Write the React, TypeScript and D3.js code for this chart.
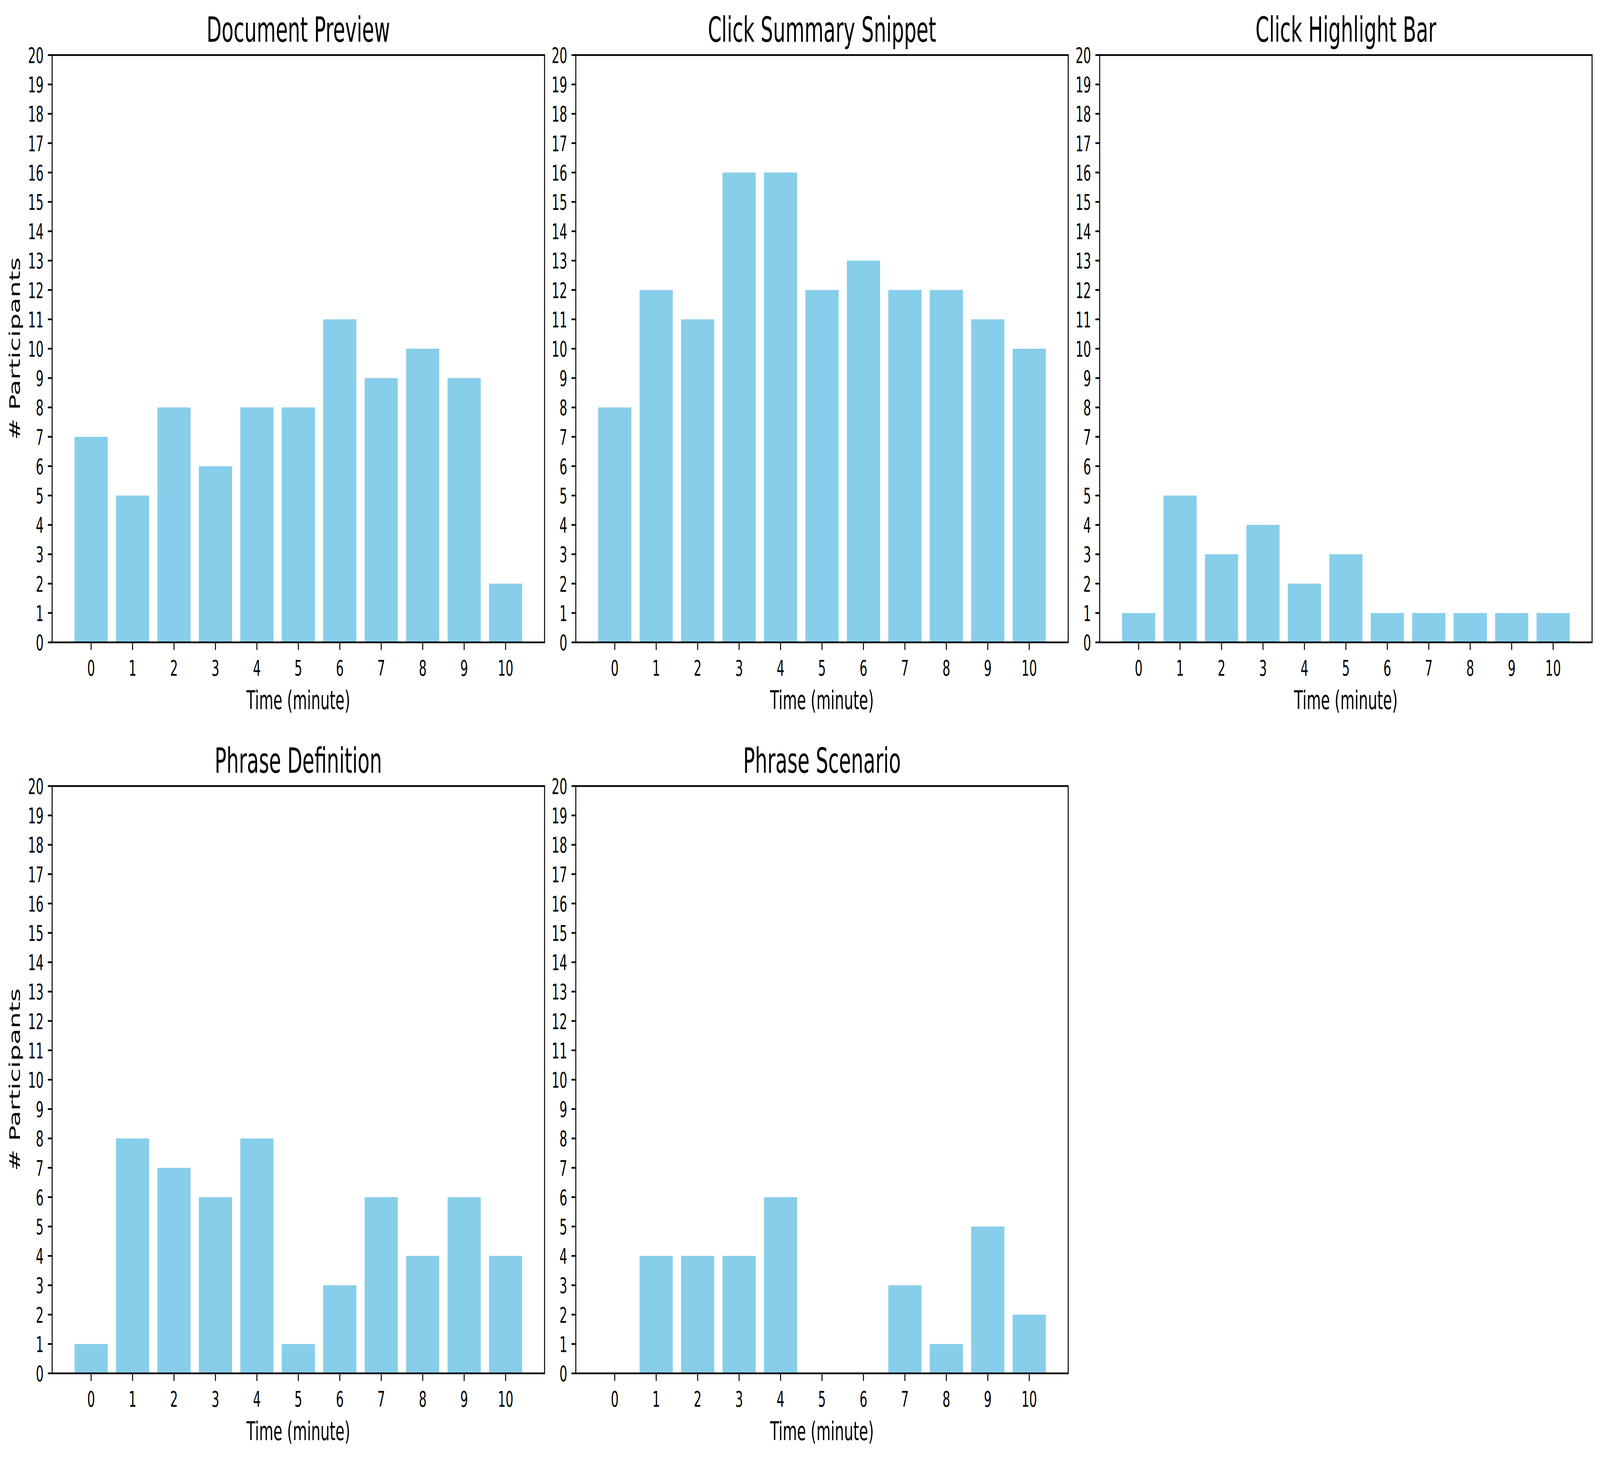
import * as d3 from 'd3';

const minutes = [0, 1, 2, 3, 4, 5, 6, 7, 8, 9, 10];
const yTicks = d3.range(0, 21);

const documentPreview = [7, 5, 8, 6, 8, 8, 11, 9, 10, 9, 2];
const clickSummarySnippet = [8, 12, 11, 16, 16, 12, 13, 12, 12, 11, 10];
const clickHighlightBar = [1, 5, 3, 4, 2, 3, 1, 1, 1, 1, 1];
const phraseDefinition = [1, 8, 7, 6, 8, 1, 3, 6, 4, 6, 4];
const phraseScenario = [0, 4, 4, 4, 6, 0, 0, 3, 1, 5, 2];

const panels = [
  { title: 'Document Preview', values: documentPreview, col: 0, row: 0 },
  { title: 'Click Summary Snippet', values: clickSummarySnippet, col: 1, row: 0 },
  { title: 'Click Highlight Bar', values: clickHighlightBar, col: 2, row: 0 },
  { title: 'Phrase Definition', values: phraseDefinition, col: 0, row: 1 },
  { title: 'Phrase Scenario', values: phraseScenario, col: 1, row: 1 },
];

// figure coordinates (the svg is stretched to whatever window it gets)
const W = 7272;
const H = 3744;
const colLefts = [237, 2617, 4998];
const rowTops = [141, 2013];
const axW = 2238;
const axH = 1504;

// matplotlib at 400 dpi
const pt = 400 / 72;
const tickFont = 10 * pt;
const labelFont = 12 * pt;
const titleFont = 16 * pt;
const lw = 0.8 * pt;
const tickLen = 3.5 * pt;
const tickPad = 3.5 * pt;
const barColor = '#87CEEB';
const font = 'DejaVu Sans';

const Panel = ({ title, values, col, row }: { title: string; values: number[]; col: number; row: number }) => {
  const left = colLefts[col];
  const top = rowTops[row];
  const x = d3.scaleLinear().domain([-0.94, 10.94]).range([0, axW]);
  const y = d3.scaleLinear().domain([0, 20]).range([axH, 0]);
  const bw = x(0.8) - x(0);

  return (
    <g transform={`translate(${left},${top})`}>
      {values.map((v, i) =>
        v > 0 ? (
          <rect
            key={i}
            x={x(minutes[i]) - bw / 2}
            y={y(v)}
            width={bw}
            height={y(0) - y(v)}
            fill={barColor}
          />
        ) : null
      )}
      <rect x={0} y={0} width={axW} height={axH} fill="none" stroke="#000" strokeWidth={lw} />
      {yTicks.map((t) => (
        <g key={t} transform={`translate(0,${y(t)})`}>
          <line x1={-tickLen} x2={0} stroke="#000" strokeWidth={lw} />
          <text
            x={-tickLen - tickPad}
            dy="0.36em"
            textAnchor="end"
            fontSize={tickFont}
            fontFamily={font}
          >
            {t}
          </text>
        </g>
      ))}
      {minutes.map((m) => (
        <g key={m} transform={`translate(${x(m)},${axH})`}>
          <line y1={0} y2={tickLen} stroke="#000" strokeWidth={lw} />
          <text y={85} textAnchor="middle" fontSize={tickFont} fontFamily={font}>
            {m}
          </text>
        </g>
      ))}
      <text x={axW / 2} y={axH + 171} textAnchor="middle" fontSize={labelFont} fontFamily={font}>
        Time (minute)
      </text>
      {col === 0 && (
        <text
          transform={`translate(${-237 + 90},${axH / 2}) rotate(-90)`}
          textAnchor="middle"
          fontSize={labelFont}
          fontFamily={font}
        >
          # Participants
        </text>
      )}
      <text x={axW / 2} y={-34} textAnchor="middle" fontSize={titleFont} fontFamily={font}>
        {title}
      </text>
    </g>
  );
};

export default function App() {
  return (
    <div style={{ position: 'absolute', left: 0, top: 0, width: '100vw', height: '100vh', overflow: 'hidden' }}>
      <svg
        width="100%"
        height="100%"
        viewBox={`0 0 ${W} ${H}`}
        preserveAspectRatio="none"
        style={{ display: 'block', background: '#fff' }}
      >
        <rect width={W} height={H} fill="#fff" />
        {panels.map((p) => (
          <Panel key={p.title} {...p} />
        ))}
      </svg>
    </div>
  );
}
